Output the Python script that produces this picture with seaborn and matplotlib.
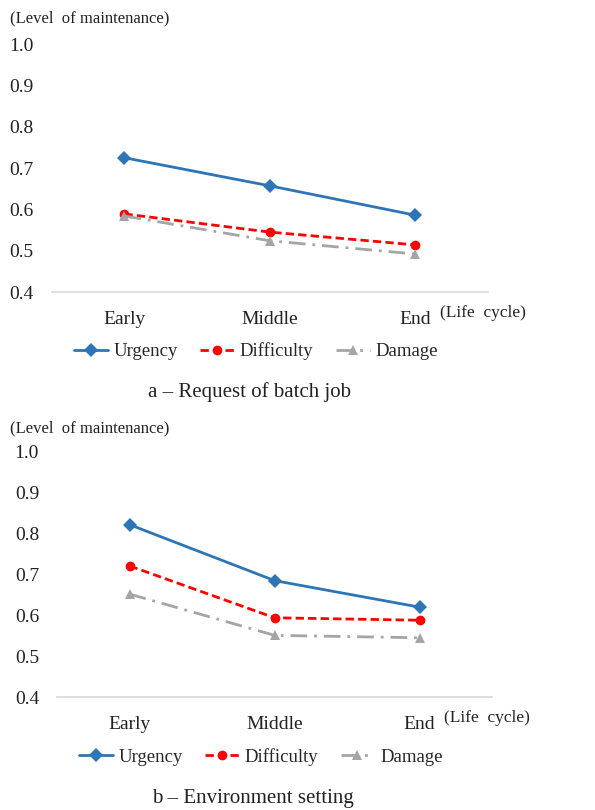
import matplotlib
matplotlib.use('Agg')
import matplotlib.pyplot as plt
import seaborn as sns
import pandas as pd

stages = ['Early', 'Middle', 'End']
series = ['Urgency', 'Difficulty', 'Damage']

# a - Request of batch job
batch_urgency = [0.725, 0.657, 0.586]
batch_difficulty = [0.589, 0.545, 0.514]
batch_damage = [0.584, 0.524, 0.492]

# b - Environment setting
env_urgency = [0.822, 0.685, 0.620]
env_difficulty = [0.721, 0.594, 0.588]
env_damage = [0.652, 0.551, 0.545]

yticks = [0.4, 0.5, 0.6, 0.7, 0.8, 0.9, 1.0]

colors = {'Urgency': '#2E75B6', 'Difficulty': '#FF0000', 'Damage': '#A5A5A5'}
markers = {'Urgency': 'D', 'Difficulty': 'o', 'Damage': '^'}
dashes = {'Urgency': '', 'Difficulty': (3, 1.5), 'Damage': (6, 2.5, 1, 2.5)}

sns.set_theme(style='white')
plt.rcParams['font.family'] = ['Liberation Serif', 'DejaVu Serif']


def make_df(urg, dif, dam):
    rows = []
    for name, vals in zip(series, [urg, dif, dam]):
        for st, v in zip(stages, vals):
            rows.append({'stage': st, 'value': v, 'series': name})
    return pd.DataFrame(rows)


def draw_panel(ax, df, caption, ylab_y, cap_x, cap_y, leg_y):
    sns.lineplot(data=df, x='stage', y='value', hue='series', style='series',
                 palette=colors, markers=markers, dashes=dashes, sort=False,
                 markersize=7, linewidth=2, markeredgewidth=0, ax=ax)
    ax.set_ylim(0.4, 1.0)
    ax.set_xlim(-0.5, 2.5)
    ax.set_yticks(yticks)
    ax.set_yticklabels(['%.1f' % t for t in yticks])
    for s in ['top', 'right', 'left']:
        ax.spines[s].set_visible(False)
    ax.spines['bottom'].set_color('#D9D9D9')
    ax.spines['bottom'].set_linewidth(1.2)
    ax.tick_params(axis='y', length=0, labelsize=14, pad=13, colors='#222222')
    ax.tick_params(axis='x', length=0, labelsize=14, pad=14, colors='#222222')
    ax.set_xlabel('')
    ax.set_ylabel('')
    ax.text(2.17, -0.085, '(Life  cycle)', transform=ax.get_xaxis_transform(),
            fontsize=12.5, color='#222222', va='center', ha='left')
    handles, labels = ax.get_legend_handles_labels()
    ax.legend(handles, labels, loc='center', bbox_to_anchor=(0.468, leg_y),
              ncol=3, frameon=False, fontsize=13.5, handlelength=1.8,
              columnspacing=1.2, handletextpad=0.3)
    fig.text(0.017, ylab_y, '(Level  of maintenance)', fontsize=12,
             color='#222222', va='center', ha='left')
    fig.text(cap_x, cap_y, caption, fontsize=15, color='#222222',
             va='center', ha='center')


fig = plt.figure(figsize=(5.95, 8.10), dpi=100)
ax1 = fig.add_axes([0.087, 0.6395, 0.733, 0.306])
ax2 = fig.add_axes([0.096, 0.1395, 0.731, 0.3025])

draw_panel(ax1, make_df(batch_urgency, batch_difficulty, batch_damage),
           'a – Request of batch job', 1 - 18 / 810, 250 / 595, 1 - 392 / 810, -0.24)
draw_panel(ax2, make_df(env_urgency, env_difficulty, env_damage),
           'b – Environment setting', 1 - 428 / 810, 253 / 595, 1 - 798 / 810, -0.245)

fig.savefig('out.png', dpi=100)
